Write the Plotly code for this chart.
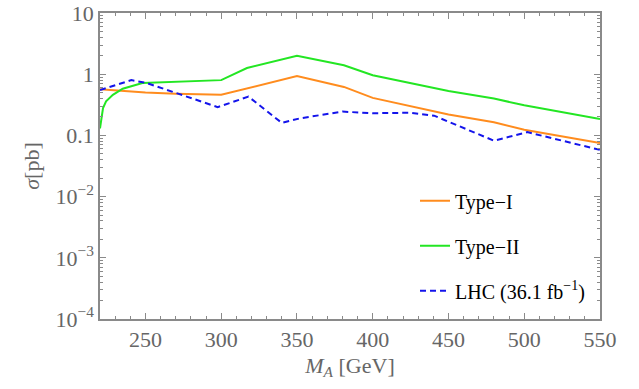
import plotly.graph_objects as go

# Type-I
m_type1 = [220, 250, 270, 300, 350, 381, 400, 450, 480, 500, 550]
s_type1 = [0.57, 0.50, 0.48, 0.46, 0.93, 0.62, 0.41, 0.22, 0.164, 0.124, 0.075]

# Type-II
m_type2 = [220, 222, 224, 228.5, 235, 242, 248, 300, 317, 350, 381, 400, 450, 480, 500, 550]
s_type2 = [0.13, 0.28, 0.36, 0.46, 0.58, 0.66, 0.72, 0.80, 1.26, 2.0, 1.4, 0.96, 0.53, 0.40, 0.31, 0.186]

# LHC (36.1 fb^-1)
m_lhc = [220, 240.7, 250.6, 297.7, 318, 340, 352, 380, 400, 425, 440.5, 480, 502, 550]
s_lhc = [0.55, 0.80, 0.72, 0.29, 0.43, 0.16, 0.19, 0.245, 0.23, 0.235, 0.21, 0.082, 0.113, 0.058]

y_tickvals = [1e-4, 1e-3, 1e-2, 0.1, 1, 10]
y_ticktext = ["10<sup>\u22124</sup>", "10<sup>\u22123</sup>", "10<sup>\u22122</sup>", "0.1", "1", "10"]
x_tickvals = [250, 300, 350, 400, 450, 500, 550]

y_minor = [k * 10 ** n for n in range(-4, 1) for k in range(2, 10)]
x_minor = list(range(220, 551, 10))

fig = go.Figure()
fig.add_trace(go.Scatter(x=m_type1, y=s_type1, mode="lines", name="Type\u2212I",
                         legendgroup="a", line=dict(color="rgb(255,140,30)", width=2)))
fig.add_trace(go.Scatter(x=m_type2, y=s_type2, mode="lines", name="Type\u2212II",
                         legendgroup="b", line=dict(color="rgb(35,230,35)", width=2)))
fig.add_trace(go.Scatter(x=m_lhc, y=s_lhc, mode="lines", name="LHC (36.1 fb<sup>\u22121</sup>)",
                         legendgroup="c", line=dict(color="rgb(20,20,235)", width=2, dash="6px,4px")))

axis_col = "#8a8a8a"
font_fam = "Liberation Serif, Times New Roman, serif"

fig.update_layout(
    width=639, height=389,
    margin=dict(l=100, r=39, t=13, b=70),
    paper_bgcolor="white", plot_bgcolor="white",
    font=dict(family=font_fam, size=22, color="#666666"),
    showlegend=True,
    legend=dict(x=0.63, y=0.45, xanchor="left", yanchor="top",
                bgcolor="rgba(0,0,0,0)", font=dict(family=font_fam, size=20, color="black"),
                tracegroupgap=16),
    xaxis=dict(range=[220, 550], tickvals=x_tickvals, ticks="inside", ticklen=6,
               tickcolor=axis_col, showline=True, linecolor=axis_col, linewidth=1.5,
               mirror="ticks", showgrid=False, zeroline=False, automargin=False,
               ticklabeloverflow="allow",
               tickfont=dict(size=22, color="#666666"),
               minor=dict(tickvals=x_minor, ticks="inside", ticklen=3, tickcolor=axis_col, showgrid=False),
               title=dict(text="<i>M</i><sub><i>A</i></sub> [GeV]", font=dict(size=22, color="#666666"), standoff=6)),
    yaxis=dict(type="log", range=[-4, 1], tickvals=y_tickvals, ticktext=y_ticktext,
               ticks="inside", ticklen=6, tickcolor=axis_col, showline=True, linecolor=axis_col,
               linewidth=1.5, mirror="ticks", showgrid=False, zeroline=False, automargin=False,
               ticklabeloverflow="allow",
               tickfont=dict(size=22, color="#666666"),
               minor=dict(tickvals=y_minor, ticks="inside", ticklen=3, tickcolor=axis_col, showgrid=False),
               title=dict(text="<i>\u03c3</i>[pb]", font=dict(size=22, color="#666666"), standoff=10)),
)

fig.write_html("out.html")
